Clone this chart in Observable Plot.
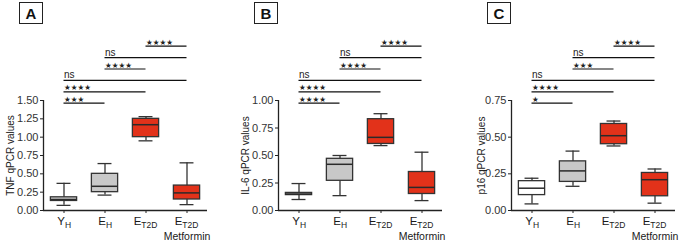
<!DOCTYPE html>
<html><head><meta charset="utf-8">
<script src="https://cdn.jsdelivr.net/npm/d3@7"></script>
<script src="https://cdn.jsdelivr.net/npm/@observablehq/plot@0.6"></script>
<style>
body{margin:0;background:#fff;}
#wrap{position:relative;width:679px;height:242px;overflow:hidden;font-family:"Liberation Sans",Arial,sans-serif;}
.panel{position:absolute;top:0;}
.panel svg{overflow:visible;}
.tag{position:absolute;top:2px;width:22px;height:20px;border:1.3px solid #222;font:bold 15px "Liberation Sans",Arial,sans-serif;text-align:center;line-height:21px;color:#111;}
</style></head><body><div id="wrap"></div>
<script>
// categories
const categories = ["Y_H", "E_H", "E_T2D", "E_T2D Metformin"];
const labelMain = ["Y", "E", "E", "E"];
const labelSub = ["H", "H", "T2D", "T2D"];
const labelExtra = ["", "", "", "Metformin"];

// five-number summaries [min, q1, median, q3, max] per category
const tnfStats = [[0.07, 0.13, 0.15, 0.18, 0.37], [0.21, 0.25, 0.33, 0.50, 0.64], [0.95, 1.00, 1.17, 1.25, 1.28], [0.08, 0.15, 0.24, 0.34, 0.65]];
const il6Stats = [[0.10, 0.14, 0.15, 0.16, 0.245], [0.135, 0.27, 0.42, 0.47, 0.50], [0.59, 0.605, 0.665, 0.83, 0.88], [0.09, 0.15, 0.21, 0.35, 0.53]];
const p16Stats = [[0.045, 0.105, 0.152, 0.20, 0.22], [0.165, 0.195, 0.27, 0.335, 0.405], [0.44, 0.452, 0.51, 0.59, 0.61], [0.05, 0.097, 0.21, 0.256, 0.283]];

// y ticks
const tnfTicks = [0, 0.25, 0.5, 0.75, 1.0, 1.25, 1.5];
const il6Ticks = [0, 0.25, 0.5, 0.75, 1.0];
const p16Ticks = [0, 0.25, 0.5, 0.75];

// significance comparisons (category indices) and labels
const bracketFrom = [0, 0, 0, 1, 1, 2];
const bracketTo = [1, 2, 3, 2, 3, 3];
const sigA = ["***", "****", "ns", "****", "ns", "****"];
const sigB = ["****", "****", "ns", "****", "ns", "****"];
const sigC = ["*", "****", "ns", "***", "ns", "****"];

const yLabels = ["TNF qPCR values", "IL-6 qPCR values", "p16 qPCR values"];
const panelTags = ["A", "B", "C"];

// styles
const GRAY = "#c8c8c8", RED = "#e2321a", WHITE = "#ffffff";
const panels = [
  {tag: panelTags[0], left: 0, stats: tnfStats, ticks: tnfTicks, label: yLabels[0], sig: sigA, fills: [GRAY, GRAY, RED, RED], labelDx: -33},
  {tag: panelTags[1], left: 235, stats: il6Stats, ticks: il6Ticks, label: yLabels[1], sig: sigB, fills: [GRAY, GRAY, RED, RED], labelDx: -33},
  {tag: panelTags[2], left: 468, stats: p16Stats, ticks: p16Ticks, label: yLabels[2], sig: sigC, fills: [WHITE, GRAY, RED, RED], labelDx: -30}
];

const boxW = 0.32, capW = 0.17;
const stroke = "#333";
const wrap = document.getElementById("wrap");

function starText(s) { return s === "ns" ? s : "★".repeat(s.length); }

for (const p of panels) {
  const ymax = p.ticks[p.ticks.length - 1];
  const boxes = p.stats.map((s, i) => ({i, min: s[0], q1: s[1], med: s[2], q3: s[3], max: s[4], fill: p.fills[i]}));
  const br = bracketFrom.map((f, k) => ({x1: f, x2: bracketTo[k], y: ymax * (0.9755 + 0.1036 * k), label: starText(p.sig[k])}));
  const labelMarks = categories.flatMap((c, i) => {
    const mainW = 7.7, subW = labelSub[i].length * 5.7;
    const d = (mainW - subW) / 2;
    const row = [{i}];
    const m = [
      Plot.text(row, {x: "i", text: () => labelMain[i], frameAnchor: "bottom", textAnchor: "end", dx: d, dy: 14.5, fontSize: 11.5, fill: "#1a1a1a"}),
      Plot.text(row, {x: "i", text: () => labelSub[i], frameAnchor: "bottom", textAnchor: "start", dx: d, dy: 17.5, fontSize: 8.5, fill: "#1a1a1a"})
    ];
    if (labelExtra[i]) m.push(Plot.text(row, {x: "i", text: () => labelExtra[i], frameAnchor: "bottom", textAnchor: "middle", dy: 29.5, fontSize: 10.5, fill: "#1a1a1a"}));
    return m;
  });
  const chart = Plot.plot({
    width: 211, height: 242,
    marginLeft: 43, marginRight: 4, marginTop: 100, marginBottom: 32,
    x: {domain: [-0.5, 3.5], axis: null},
    y: {domain: [0, ymax], axis: null},
    color: {type: "identity"},
    style: {fontFamily: "'Liberation Sans', Arial, sans-serif", background: "transparent", color: "#333"},
    marks: [
      Plot.ruleX(boxes, {x: "i", y1: "min", y2: "max", stroke, strokeWidth: 1.3}),
      Plot.ruleY(boxes, {y: "min", x1: d => d.i - capW, x2: d => d.i + capW, stroke, strokeWidth: 1.3}),
      Plot.ruleY(boxes, {y: "max", x1: d => d.i - capW, x2: d => d.i + capW, stroke, strokeWidth: 1.3}),
      Plot.rect(boxes, {x1: d => d.i - boxW, x2: d => d.i + boxW, y1: "q1", y2: "q3", fill: "fill", stroke, strokeWidth: 1.3}),
      Plot.ruleY(boxes, {y: "med", x1: d => d.i - boxW, x2: d => d.i + boxW, stroke: "#2a2a2a", strokeWidth: 1.5}),
      Plot.ruleY([0], {stroke: "#222", strokeWidth: 1.3}),
      Plot.ruleX([-0.5], {stroke: "#222", strokeWidth: 1.3}),
      Plot.axisY({ticks: p.ticks, tickFormat: d3.format(".2f"), tickSize: 3, tickPadding: 2, fontSize: 11, label: null, stroke: "#222", fill: "#333"}),
      Plot.axisX({ticks: [0, 1, 2, 3], tickFormat: () => "", tickSize: 3, label: null, stroke: "#222"}),
      Plot.ruleY(br, {y: "y", x1: "x1", x2: "x2", stroke: "#111", strokeWidth: 1.2}),
      Plot.text(br.filter(d => d.label !== "ns"), {x: "x1", y: "y", text: "label", textAnchor: "start", lineAnchor: "bottom", dy: -1.5, fontSize: 7.5, fontFamily: "DejaVu Sans", fill: "#222"}),
      Plot.text(br.filter(d => d.label === "ns"), {x: "x1", y: "y", text: "label", textAnchor: "start", lineAnchor: "bottom", dy: -2, fontSize: 10, fill: "#222"}),
      Plot.text([p.label], {text: d => d, frameAnchor: "left", rotate: -90, dx: p.labelDx, fontSize: 10, fill: "#222", textAnchor: "middle"}),
      ...labelMarks
    ]
  });
  const div = document.createElement("div");
  div.className = "panel";
  div.style.left = p.left + "px";
  div.appendChild(chart);
  wrap.appendChild(div);
  const tag = document.createElement("div");
  tag.className = "tag";
  tag.style.left = (p.left + 43 - 24) + "px";
  tag.textContent = p.tag;
  wrap.appendChild(tag);
}
</script>
</body></html>
